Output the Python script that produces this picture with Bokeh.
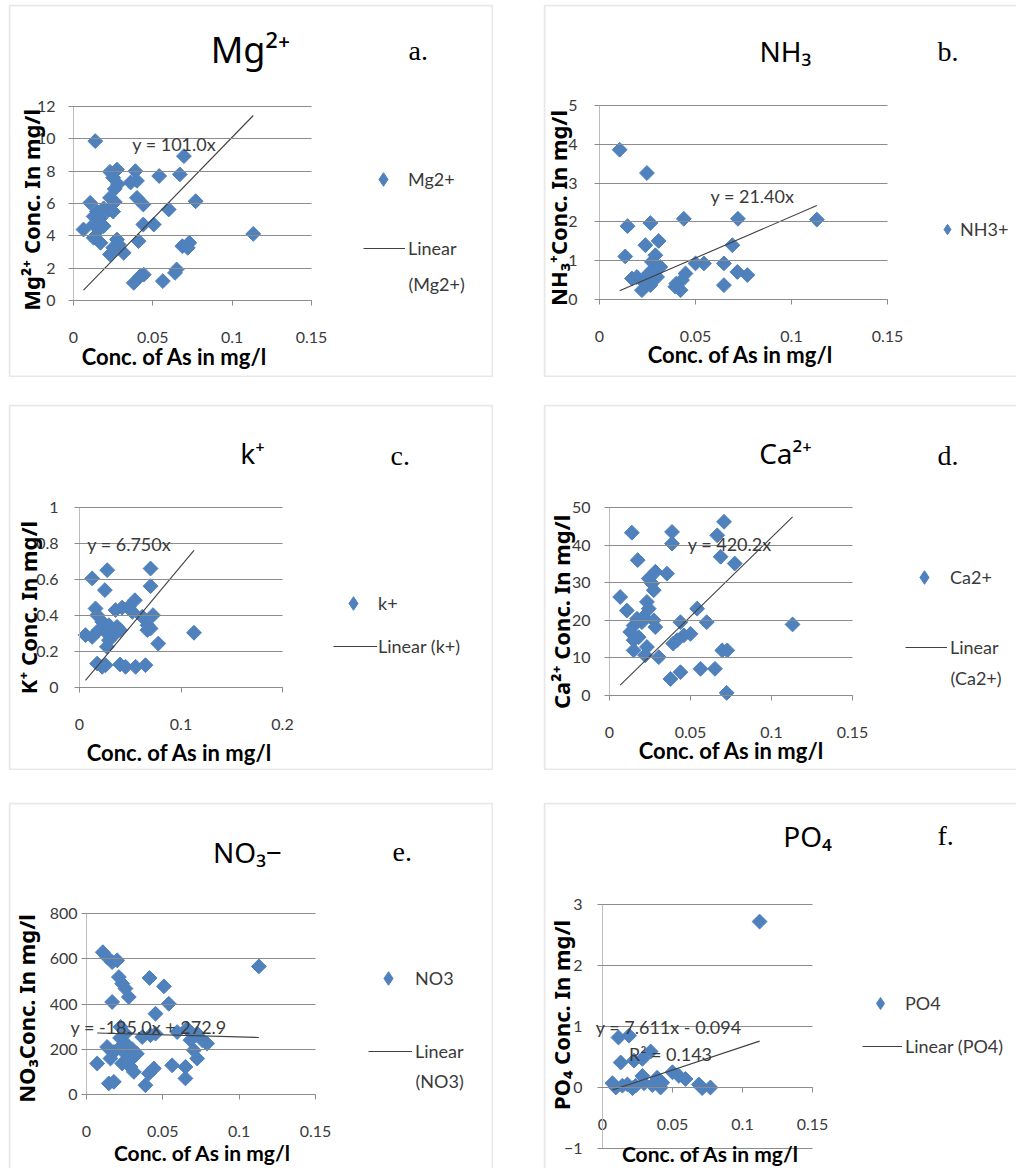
import math
from bokeh.plotting import figure
from bokeh.models import (Label, Legend, LegendItem, FixedTicker, NumeralTickFormatter, Spacer,
                          Range1d, BoxAnnotation)
from bokeh.layouts import column, row
from bokeh.embed import file_html
from bokeh.resources import INLINE

# ---------------- data ----------------
mg_as = [0.0137, 0.0696, 0.023, 0.0274, 0.025, 0.039, 0.054, 0.067, 0.036, 0.040, 0.028, 0.026,
         0.0105, 0.023, 0.026, 0.040, 0.044, 0.077, 0.060, 0.0148, 0.019, 0.0127, 0.017, 0.022,
         0.025, 0.0063, 0.0127, 0.016, 0.019, 0.044, 0.0506, 0.0127, 0.017, 0.0274, 0.041, 0.0285,
         0.0686, 0.073, 0.072, 0.1133, 0.023, 0.0316, 0.025, 0.038, 0.0443, 0.042, 0.0563, 0.064, 0.065]
mg_conc = [9.86, 8.93, 7.96, 8.1, 7.6, 8.0, 7.7, 7.8, 7.3, 7.4, 7.2, 6.9,
           6.04, 6.35, 6.1, 6.35, 5.94, 6.14, 5.63, 5.5, 5.7, 5.2, 5.1, 5.6,
           5.5, 4.39, 4.7, 4.4, 4.6, 4.7, 4.7, 3.88, 3.57, 3.77, 3.67, 3.46,
           3.36, 3.57, 3.26, 4.12, 2.85, 2.95, 3.26, 1.09, 1.6, 1.5, 1.2, 1.71, 1.92]

nh3_as = [0.0105, 0.0247, 0.0146, 0.0265, 0.0439, 0.0721, 0.1132, 0.0308, 0.0239, 0.0692, 0.0134,
          0.0291, 0.0273, 0.050, 0.0544, 0.0648, 0.0718, 0.077, 0.0169, 0.0195, 0.023, 0.0256,
          0.029, 0.030, 0.0221, 0.0265, 0.0395, 0.0422, 0.0448, 0.043, 0.0648, 0.040, 0.0317]
nh3_conc = [3.86, 3.26, 1.89, 1.97, 2.08, 2.08, 2.06, 1.51, 1.40, 1.40, 1.11,
            1.14, 0.97, 0.93, 0.93, 0.93, 0.71, 0.63, 0.54, 0.58, 0.45, 0.67,
            0.75, 0.58, 0.24, 0.37, 0.33, 0.24, 0.67, 0.50, 0.37, 0.41, 0.84]

k_as = [0.0125, 0.0273, 0.025, 0.070, 0.070, 0.0158, 0.0174, 0.0355, 0.042, 0.0487, 0.0546, 0.052,
        0.0618, 0.0724, 0.0224, 0.029, 0.0257, 0.037, 0.0059, 0.0125, 0.019, 0.034, 0.040, 0.0668,
        0.070, 0.067, 0.029, 0.027, 0.0776, 0.1128, 0.0174, 0.0257, 0.040, 0.0454, 0.0553, 0.065, 0.0224]
k_conc = [0.606, 0.652, 0.541, 0.661, 0.563, 0.439, 0.402, 0.430, 0.444, 0.448, 0.485, 0.42,
          0.393, 0.402, 0.365, 0.346, 0.309, 0.337, 0.291, 0.281, 0.319, 0.291, 0.319, 0.319,
          0.328, 0.346, 0.263, 0.226, 0.244, 0.304, 0.133, 0.124, 0.128, 0.115, 0.115, 0.124, 0.115]

ca_as = [0.0138, 0.0386, 0.0386, 0.0707, 0.0665, 0.0686, 0.0773, 0.0174, 0.0242, 0.0283, 0.0355,
         0.0262, 0.0273, 0.0066, 0.0107, 0.0231, 0.0242, 0.0541, 0.0149, 0.017, 0.020, 0.021,
         0.0283, 0.0273, 0.0438, 0.060, 0.113, 0.0128, 0.018, 0.0149, 0.0417, 0.0459, 0.050,
         0.0393, 0.0149, 0.0231, 0.022, 0.0304, 0.0696, 0.0727, 0.0376, 0.0438, 0.0562, 0.0651, 0.0723]
ca_conc = [43.3, 43.5, 40.4, 46.2, 42.6, 36.9, 35.1, 36.0, 31.1, 32.9, 32.4,
           29.8, 28.0, 26.2, 22.6, 24.9, 23.1, 23.1, 18.6, 20.4, 19.5, 20.9,
           18.2, 20.0, 19.5, 19.5, 18.9, 16.9, 15.5, 14.7, 14.7, 16.0, 16.4,
           13.8, 12.0, 12.9, 10.7, 10.2, 12.0, 12.0, 4.4, 6.2, 7.1, 7.1, 0.7]

no3_as = [0.0107, 0.0135, 0.0168, 0.0201, 0.0212, 0.0234, 0.0255, 0.0277, 0.0168, 0.0413, 0.0507,
          0.0539, 0.0452, 0.1129, 0.0223, 0.0255, 0.0365, 0.0419, 0.0452, 0.0594, 0.0659, 0.0725,
          0.0758, 0.079, 0.0681, 0.0135, 0.0179, 0.0223, 0.0255, 0.0299, 0.007, 0.0157, 0.0234,
          0.0288, 0.031, 0.0277, 0.0561, 0.0648, 0.0725, 0.0703, 0.0408, 0.0441, 0.0648, 0.0146,
          0.0179, 0.0386, 0.025, 0.030, 0.022, 0.033]
no3_conc = [629, 607, 585, 593, 519, 490, 468, 431, 409, 515, 478,
            401, 357, 566, 299, 269, 254, 262, 269, 276, 291, 269,
            240, 225, 240, 210, 188, 210, 181, 159, 137, 159, 137,
            122, 100, 166, 129, 122, 159, 196, 93, 115, 71, 49,
            56, 41, 230, 200, 250, 180]

po4_as = [0.1122, 0.0114, 0.019, 0.013, 0.0225, 0.0344, 0.0285, 0.05, 0.0546, 0.0593, 0.0285,
          0.039, 0.0071, 0.0142, 0.0178, 0.0237, 0.0297, 0.0356, 0.0415, 0.0427, 0.0688, 0.0712,
          0.0771, 0.0214, 0.0095]
po4_conc = [2.72, 0.82, 0.85, 0.41, 0.44, 0.59, 0.47, 0.25, 0.19, 0.14, 0.19,
            0.16, 0.07, 0.03, 0.05, 0.03, 0.07, 0.04, 0.0, 0.08, 0.05, -0.01,
            0.0, -0.01, 0.0]

# trend line coefficients (slope, intercept) as printed on the chart
mg_fit = (101.0, 0.0)
nh3_fit = (21.40, 0.0)
k_fit = (6.750, 0.0)
ca_fit = (420.2, 0.0)
no3_fit = (-185.0, 272.9)
po4_fit = (7.611, -0.094)

# axis ticks
x_ticks_015 = [0, 0.05, 0.1, 0.15]
x_ticks_02 = [0, 0.1, 0.2]
mg_ticks = [0, 2, 4, 6, 8, 10, 12]
nh3_ticks = [0, 1, 2, 3, 4, 5]
k_ticks = [0, 0.2, 0.4, 0.6, 0.8, 1]
ca_ticks = [0, 10, 20, 30, 40, 50]
no3_ticks = [0, 200, 400, 600, 800]
po4_ticks = [-1, 0, 1, 2, 3]

BLUE = "#4F81BD"
GRID = "#8c8c8c"
TXT = "#3a3a3a"
SANS = "Lato"
UNI = "Noto Sans"
NAN = float("nan")


def panel(cfg):
    W, H = cfg["w"], cfg["h"]
    L, R, T, B = cfg["rect"]          # plot area inside the panel, in pixels
    x0, x1 = cfg["xd"]
    y0, y1 = cfg["yd"]
    kx = (x1 - x0) / (R - L)
    ky = (y1 - y0) / (B - T)
    xr = Range1d(x0 - L * kx, x1 + (W - R) * kx)
    yr = Range1d(y0 - (H - B) * ky, y1 + T * ky)
    p = figure(width=W, height=H, x_range=xr, y_range=yr, output_backend="svg",
               toolbar_location=None, min_border=0)
    p.outline_line_color = None
    p.background_fill_color = "white"
    p.border_fill_color = "white"
    p.grid.visible = False

    # axes fixed at the data origin; horizontal grid drawn by the y-axis ticks
    p.xaxis.fixed_location = cfg.get("xaxis_at", y0)
    p.yaxis.fixed_location = x0
    p.xaxis.bounds = (x0, x1)
    p.yaxis.bounds = (y0, y1)
    p.xaxis.ticker = FixedTicker(ticks=cfg["xt"])
    p.xaxis.formatter = NumeralTickFormatter(format="0.[00]")
    p.yaxis.ticker = FixedTicker(ticks=cfg["yt"])
    if cfg.get("yfmt"):
        p.yaxis.formatter = NumeralTickFormatter(format=cfg["yfmt"])
    for ax in (p.xaxis, p.yaxis):
        ax.minor_tick_line_color = None
        ax.major_label_text_font = SANS
        ax.major_label_text_font_size = "16px"
        ax.major_label_text_color = TXT
        ax.major_tick_line_color = GRID
        ax.major_tick_out = 5
    p.xaxis.major_tick_in = 0
    p.yaxis.major_tick_in = R - L
    p.yaxis.major_tick_line_width = 1.2
    p.xaxis.axis_line_color = GRID
    p.xaxis.axis_line_width = 1.2
    p.yaxis.axis_line_color = "#bdbdbd"
    p.xaxis.major_label_standoff = 26
    p.yaxis.major_label_standoff = cfg["ys"]

    # panel frame
    p.add_layout(BoxAnnotation(left=1, right=W - 1 + cfg.get("open_r", 0),
                               bottom=1 - cfg.get("open_b", 0), top=H - 1,
                               left_units="screen", right_units="screen",
                               top_units="screen", bottom_units="screen",
                               fill_alpha=0, line_color="#b4b4b4", line_width=2))

    xs, ys = cfg["x"], cfg["y"]
    sc = p.scatter(xs, ys, marker="square", angle=math.pi / 4, size=10.5,
                   fill_color=BLUE, line_color=BLUE)
    m, b = cfg["fit"]
    a0, a1 = min(xs), max(xs)
    ln = p.line([a0, a1], [m * a0 + b, m * a1 + b], line_color="#404040", line_width=1.1)
    # legend key shape for the series (a diamond, not drawn in the plot area)
    key = p.scatter(x=[NAN], y=[NAN], marker="diamond", fill_color=BLUE, line_color=BLUE)

    common = dict(orientation="vertical", padding=0, margin=0, spacing=0,
                  label_text_font=SANS, label_text_font_size="18px", label_text_color=TXT,
                  background_fill_alpha=0, border_line_alpha=0)
    k_loc, k_gw, k_ls = cfg["leg1"]
    p.add_layout(Legend(items=[LegendItem(label=cfg["series"], renderers=[key])],
                        location=k_loc, glyph_width=k_gw, glyph_height=k_gw, label_height=k_gw,
                        label_standoff=k_ls, **common))
    if cfg.get("trend"):
        t_loc, t_gw, t_ls = cfg["leg2"]
        p.add_layout(Legend(items=[LegendItem(label=cfg["trend"], renderers=[ln])],
                            location=t_loc, glyph_width=t_gw, glyph_height=20, label_height=20,
                            label_standoff=t_ls, **common))
    if cfg.get("trend2"):
        t2x, t2y, t2 = cfg["trend2"]
        p.add_layout(Label(x=t2x, y=t2y, x_units="screen", y_units="screen", text=t2,
                           text_font=SANS, text_font_size="18px", text_color=TXT,
                           text_align="left", text_baseline="middle"))

    tx, ty = cfg["title_pos"]
    p.add_layout(Label(x=tx, y=ty, x_units="screen", y_units="screen", text=cfg["title"],
                       text_font=UNI, text_font_size=cfg["tfs"], text_color="black",
                       text_align="center", text_baseline="alphabetic"))
    lx, ly = cfg["letter_pos"]
    p.add_layout(Label(x=lx, y=ly, x_units="screen", y_units="screen", text=cfg["letter"],
                       text_font="Liberation Serif", text_font_size="28px", text_color="black",
                       text_align="left", text_baseline="alphabetic"))
    yx, yy = cfg["ytitle_pos"]
    p.add_layout(Label(x=yx, y=yy, x_units="screen", y_units="screen", text=cfg["ytitle"],
                       angle=math.pi / 2, text_font=UNI, text_font_style="bold",
                       text_font_size="22px", text_color="black",
                       text_align="center", text_baseline="middle"))
    xx, xy, xfs = cfg["xtitle_pos"]
    p.add_layout(Label(x=xx, y=xy, x_units="screen", y_units="screen", text="Conc. of As in mg/l",
                       text_font=SANS, text_font_style="bold", text_font_size=xfs,
                       text_color="black", text_align="center", text_baseline="middle"))
    for (ex, ey, et) in cfg["eq"]:
        p.add_layout(Label(x=ex, y=ey, text=et, text_font=SANS, text_font_size="18px",
                           text_color=TXT, text_align="left", text_baseline="middle"))
    return p


cfgs = [
    dict(w=485, h=373, rect=(65, 303, 102, 296), xd=(0, 0.15), yd=(0, 12),
         xt=x_ticks_015, yt=mg_ticks, ys=13, x=mg_as, y=mg_conc, fit=mg_fit,
         series="Mg2+", trend="Linear", trend2=(400, 94, "(Mg2+)"),
         leg1=((358, 181), 34, 8), leg2=((355, 118), 42, 3),
         title="Mg²⁺", tfs="36px", title_pos=(242, 328), letter="a.", letter_pos=(400, 327),
         ytitle="Mg²⁺  Conc. In mg/l", ytitle_pos=(22, 170.5), xtitle_pos=(166, 21, "22px"),
         eq=[(0.037, 9.65, "y = 101.0x")]),
    dict(w=473, h=373, rect=(56, 344, 101, 295), xd=(0, 0.15), yd=(0, 5), open_r=10,
         xt=x_ticks_015, yt=nh3_ticks, ys=17, x=nh3_as, y=nh3_conc, fit=nh3_fit,
         series="NH3+", leg1=((391, 135), 26, 0),
         title="NH₃", tfs="28px", title_pos=(242, 327), letter="b.", letter_pos=(394, 326),
         ytitle="NH₃⁺Conc. In mg/l", ytitle_pos=(14, 169.5), xtitle_pos=(197, 23, "22px"),
         eq=[(0.0578, 2.68, "y = 21.40x")]),
    dict(w=485, h=366, rect=(71, 274, 103, 283), xd=(0, 0.2), yd=(0, 1),
         xt=x_ticks_02, yt=k_ticks, ys=16, yfmt="0.[0]", x=k_as, y=k_conc, fit=k_fit,
         series="k+", trend="Linear (k+)", leg1=((328, 150), 34, 8), leg2=((325, 113), 44, 1),
         title="k⁺", tfs="28px", title_pos=(244, 318), letter="c.", letter_pos=(382, 315),
         ytitle="K⁺ Conc. In mg/l", ytitle_pos=(19, 163), xtitle_pos=(171, 18, "22px"),
         eq=[(0.0076, 0.80, "y = 6.750x")]),
    dict(w=473, h=366, rect=(66, 309, 103, 291), xd=(0, 0.15), yd=(0, 50), open_r=10,
         xt=x_ticks_015, yt=ca_ticks, ys=14, x=ca_as, y=ca_conc, fit=ca_fit,
         series="Ca2+", trend="Linear", trend2=(407, 93, "(Ca2+)"),
         leg1=((364, 176), 34, 9), leg2=((362, 112), 42, 3),
         title="Ca²⁺", tfs="28px", title_pos=(242, 318), letter="d.", letter_pos=(394, 315),
         ytitle="Ca²⁺  Conc. In mg/l", ytitle_pos=(17, 161.5), xtitle_pos=(188, 20, "22px"),
         eq=[(0.0483, 40.4, "y = 420.2x")]),
    dict(w=485, h=366, rect=(78, 307, 111, 292), xd=(0, 0.15), yd=(0, 800), open_b=10,
         xt=x_ticks_015, yt=no3_ticks, ys=4, x=no3_as, y=no3_conc, fit=no3_fit,
         series="NO3", trend="Linear", trend2=(407, 88, "(NO3)"),
         leg1=((363, 173), 34, 10), leg2=((360, 106), 44, 3),
         title="NO₃−", tfs="28px", title_pos=(239, 317), letter="e.", letter_pos=(384, 317),
         ytitle="NO₃Conc. In mg/l", ytitle_pos=(17, 160), xtitle_pos=(194, 16, "21px"),
         eq=[(-0.0105, 298, "y = -185.0x + 272.9")]),
    dict(w=473, h=366, rect=(59, 269, 102, 346), xd=(0, 0.15), yd=(-1, 3), xaxis_at=0,
         open_r=10, open_b=10,
         xt=x_ticks_015, yt=po4_ticks, ys=15, x=po4_as, y=po4_conc, fit=po4_fit,
         series="PO4", trend="Linear (PO4)", leg1=((322, 150), 30, 10), leg2=((319, 111), 40, 3),
         title="PO₄", tfs="28px", title_pos=(264, 333), letter="f.", letter_pos=(394, 333),
         ytitle="PO₄ Conc. In mg/l", ytitle_pos=(17, 153.5), xtitle_pos=(167, 15, "21px"),
         eq=[(-0.0048, 0.985, "y = 7.611x - 0.094"), (0.019, 0.548, "R² = 0.143")]),
]

pa, pb, pc, pd, pe, pf = [panel(c) for c in cfgs]

layout = column(
    Spacer(height=4),
    row(Spacer(width=8), pa, Spacer(width=50), pb),
    Spacer(height=27),
    row(Spacer(width=8), pc, Spacer(width=50), pd),
    Spacer(height=32),
    row(Spacer(width=8), pe, Spacer(width=50), pf),
)

open("out.html", "w").write(file_html(layout, INLINE))
